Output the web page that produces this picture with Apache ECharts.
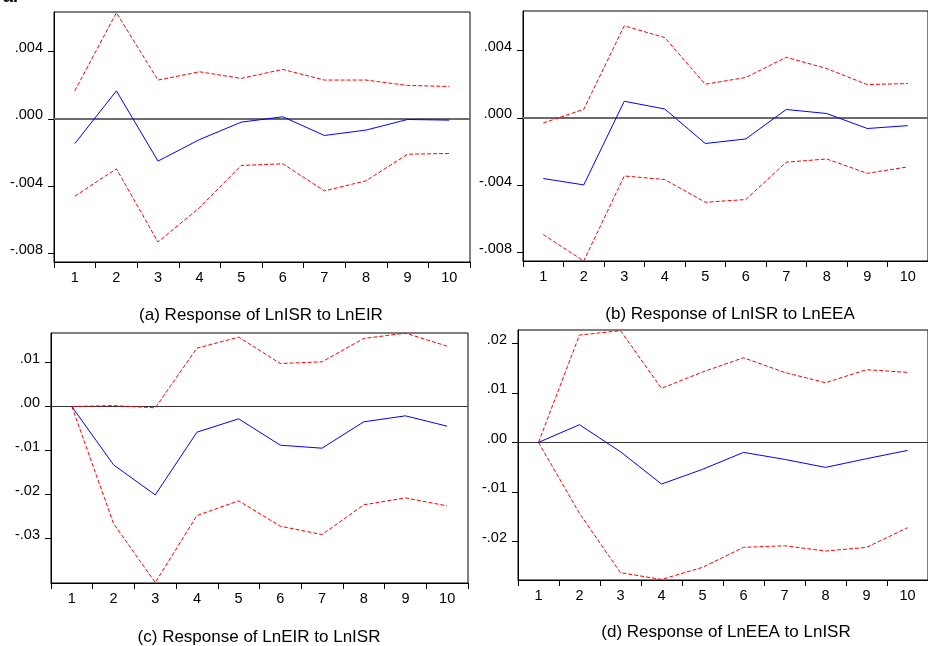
<!DOCTYPE html>
<html>
<head>
<meta charset="utf-8">
<script src="https://cdn.jsdelivr.net/npm/echarts@6/dist/echarts.min.js"></script>
<style>
  html, body { margin: 0; padding: 0; background: #fff; }
  #chart { width: 928px; height: 646px; }
</style>
</head>
<body>
<div id="chart"></div>
<script>
// ---- data ----
const periods = ['1', '2', '3', '4', '5', '6', '7', '8', '9', '10'];

// (a) Response of LnISR to LnEIR
const respA  = [-0.00147, 0.00166, -0.00251, -0.00123, -0.00020, 0.00012, -0.00099, -0.00067, -0.00004, -0.00008];
const upperA = [0.00166, 0.00630, 0.00230, 0.00279, 0.00240, 0.00293, 0.00230, 0.00230, 0.00198, 0.00192];
const lowerA = [-0.00459, -0.00297, -0.00731, -0.00527, -0.00277, -0.00267, -0.00428, -0.00368, -0.00210, -0.00206];

// (b) Response of LnISR to LnEEA
const respB  = [-0.00360, -0.00398, 0.00099, 0.00053, -0.00152, -0.00125, 0.00050, 0.00026, -0.00063, -0.00046];
const upperB = [-0.00030, 0.00051, 0.00547, 0.00477, 0.00200, 0.00240, 0.00360, 0.00293, 0.00198, 0.00204];
const lowerB = [-0.00693, -0.00850, -0.00345, -0.00366, -0.00501, -0.00485, -0.00263, -0.00244, -0.00329, -0.00291];

// (c) Response of LnEIR to LnISR
const respC  = [0, -0.01326, -0.02008, -0.00583, -0.00280, -0.00879, -0.00947, -0.00348, -0.00212, -0.00447];
const upperC = [0, 0.00020, -0.00030, 0.01326, 0.01576, 0.00977, 0.01015, 0.01545, 0.01667, 0.01371];
const lowerC = [0, -0.02659, -0.04000, -0.02477, -0.02144, -0.02720, -0.02909, -0.02235, -0.02076, -0.02258];

// (d) Response of LnEEA to LnISR
const respD  = [0, 0.00357, -0.00189, -0.00842, -0.00545, -0.00202, -0.00343, -0.00505, -0.00330, -0.00162];
const upperD = [0, 0.02168, 0.02256, 0.01091, 0.01421, 0.01710, 0.01414, 0.01205, 0.01468, 0.01414];
const lowerD = [0, -0.01434, -0.02633, -0.02768, -0.02525, -0.02121, -0.02088, -0.02195, -0.02121, -0.01724];

// tick values and labels
const yTicksAB  = [-0.008, -0.004, 0, 0.004];
const yLabelsAB = ['-.008', '-.004', '.000', '.004'];
const yTicksC   = [-0.03, -0.02, -0.01, 0, 0.01];
const yLabelsC  = ['-.03', '-.02', '-.01', '.00', '.01'];
const yTicksD   = [-0.02, -0.01, 0, 0.01, 0.02];
const yLabelsD  = ['-.02', '-.01', '.00', '.01', '.02'];

const titles = [
  '(a) Response of LnISR to LnEIR',
  '(b) Response of LnISR to LnEEA',
  '(c) Response of LnEIR to LnISR',
  '(d) Response of LnEEA to LnISR'
];

// ---- layout ----
const FONT = 'Liberation Sans, Arial, sans-serif';
const panels = [
  { grid: { left: 54, top: 12, width: 416, height: 250 }, min: -0.0085, max: 0.00634,
    ticks: yTicksAB, labels: yLabelsAB, resp: respA, up: upperA, lo: lowerA,
    zero: { color: '#6a6a6a', width: 2 }, title: { x: 261, y: 307 } },
  { grid: { left: 523, top: 11, width: 416, height: 250 }, min: -0.0085, max: 0.00635,
    ticks: yTicksAB, labels: yLabelsAB, resp: respB, up: upperB, lo: lowerB,
    zero: { color: '#6a6a6a', width: 2 }, title: { x: 730, y: 306 } },
  { grid: { left: 51, top: 333, width: 417, height: 250 }, min: -0.0401, max: 0.0167,
    ticks: yTicksC, labels: yLabelsC, resp: respC, up: upperC, lo: lowerC,
    zero: { color: '#333', width: 1.2 }, title: { x: 259, y: 629 } },
  { grid: { left: 518, top: 330, width: 417, height: 250 }, min: -0.0278, max: 0.0227,
    ticks: yTicksD, labels: yLabelsD, resp: respD, up: upperD, lo: lowerD,
    zero: { color: '#333', width: 1.2 }, title: { x: 726, y: 624 } }
];

const grid = [], xAxis = [], yAxis = [], series = [];
panels.forEach((p, i) => {
  grid.push(Object.assign({ show: true, borderColor: '#000', borderWidth: 1, backgroundColor: '#fff' }, p.grid));
  xAxis.push({
    type: 'category', gridIndex: i, data: periods, boundaryGap: true, position: 'bottom',
    axisLine: { onZero: false, lineStyle: { color: '#000', width: 1 } },
    axisTick: { show: true, length: 6, alignWithLabel: false, interval: 0, lineStyle: { color: '#000' } },
    axisLabel: { color: '#000', fontSize: 14.5, fontFamily: FONT, margin: 8, interval: 0 },
    splitLine: { show: false }
  });
  const tk = p.ticks, lb = p.labels;
  yAxis.push({
    type: 'value', gridIndex: i, min: p.min, max: p.max,
    axisLine: { show: true, onZero: false, lineStyle: { color: '#000', width: 1 } },
    axisTick: { show: true, length: 6, customValues: tk, lineStyle: { color: '#000' } },
    axisLabel: {
      color: '#000', fontSize: 14.5, fontFamily: FONT, margin: 11,
      customValues: tk, verticalAlign: 'bottom', lineHeight: 7,
      formatter: function (v) {
        for (let k = 0; k < tk.length; k++) if (Math.abs(tk[k] - v) < 1e-9) return lb[k];
        return '';
      }
    },
    splitLine: { show: false }
  });
  series.push({
    type: 'line', xAxisIndex: i, yAxisIndex: i, data: p.resp, showSymbol: false, symbol: 'none',
    lineStyle: { color: '#0000ff', width: 1 }, z: 3,
    markLine: {
      silent: true, symbol: 'none', label: { show: false },
      lineStyle: { color: p.zero.color, width: p.zero.width, type: 'solid' },
      data: [{ yAxis: 0 }], z: 1
    }
  });
  series.push({
    type: 'line', xAxisIndex: i, yAxisIndex: i, data: p.up, showSymbol: false, symbol: 'none',
    lineStyle: { color: '#ff0000', width: 1, type: [4, 2] }, z: 2
  });
  series.push({
    type: 'line', xAxisIndex: i, yAxisIndex: i, data: p.lo, showSymbol: false, symbol: 'none',
    lineStyle: { color: '#ff0000', width: 1, type: [4, 2] }, z: 2
  });
});

const chart = echarts.init(document.getElementById('chart'), null, { renderer: 'canvas' });
chart.setOption({
  backgroundColor: '#fff',
  animation: false,
  grid, xAxis, yAxis, series,
  graphic: [
    { type: 'text', x: 3, y: -12,
      style: { text: 'a.', font: 'bold 18px ' + FONT, fill: '#000', textVerticalAlign: 'top' } }
  ].concat(panels.map((p, i) => ({
    type: 'text', x: p.title.x, y: p.title.y,
    style: { text: titles[i], font: '17px ' + FONT, fill: '#000', textAlign: 'center', textVerticalAlign: 'top' }
  })))
});
</script>
</body>
</html>
